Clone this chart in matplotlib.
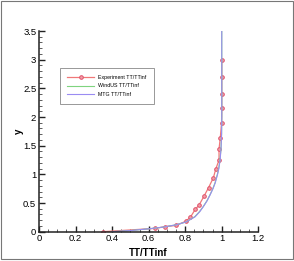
import matplotlib
matplotlib.use("Agg")
from matplotlib import pyplot as plt
from matplotlib.ticker import MultipleLocator
from matplotlib.patches import Rectangle

plt.rcParams['font.family'] = ['Liberation Sans', 'DejaVu Sans']

# experiment points
expX = [0.348, 0.637, 0.688, 0.751, 0.802, 0.828, 0.855, 0.875, 0.903, 0.928,
        0.954, 0.967, 0.985, 0.985, 0.992, 0.999, 1.0, 1.0, 1.0, 1.0]
expY = [0.0, 0.058, 0.087, 0.11, 0.18, 0.25, 0.39, 0.46, 0.62, 0.77,
        0.94, 1.09, 1.25, 1.44, 1.64, 1.90, 2.15, 2.40, 2.69, 2.99]

# WindUS profile
windX = [0.40, 0.50, 0.60, 0.68, 0.75, 0.805, 0.852, 0.878, 0.899, 0.919, 0.935,
         0.951, 0.963, 0.976, 0.983, 0.990, 0.996, 0.999, 1.0, 1.0]
windY = [0.0, 0.02, 0.05, 0.08, 0.12, 0.17, 0.26, 0.35, 0.44, 0.54, 0.64,
         0.75, 0.85, 1.0, 1.1, 1.25, 1.45, 1.7, 2.0, 3.5]

# MTG profile
mtgX = [0.40, 0.50, 0.60, 0.68, 0.75, 0.805, 0.854, 0.880, 0.900, 0.920, 0.936,
        0.952, 0.964, 0.977, 0.984, 0.991, 0.996, 0.999, 1.0, 1.0]
mtgY = [0.0, 0.02, 0.05, 0.08, 0.12, 0.17, 0.26, 0.35, 0.44, 0.54, 0.64,
        0.75, 0.85, 1.0, 1.1, 1.25, 1.45, 1.7, 2.0, 3.5]

xTicks = [0, 0.2, 0.4, 0.6, 0.8, 1.0, 1.2]
xTickLabels = ["0", "0.2", "0.4", "0.6", "0.8", "1", "1.2"]
yTicks = [0, 0.5, 1.0, 1.5, 2.0, 2.5, 3.0, 3.5]
yTickLabels = ["0", "0.5", "1", "1.5", "2", "2.5", "3", "3.5"]

fig = plt.figure(figsize=(2.94, 2.61), dpi=100)
ax = fig.add_axes([0.1327, 0.1123, 0.7459, 0.7689])

ax.plot(expX, expY, color="#f07878", linewidth=0.9, marker="o", markersize=2.6,
        markerfacecolor="#f0a0a8", markeredgecolor="#e0506a", markeredgewidth=0.7,
        label="Experiment TT/TTinf")
ax.plot(windX, windY, color="#7fd47f", linewidth=0.8, label="WindUS TT/TTinf")
ax.plot(mtgX, mtgY, color="#9a8cf2", linewidth=0.8, label="MTG TT/TTinf")

ax.set_xlim(0, 1.2)
ax.set_ylim(0, 3.5)
ax.xaxis.set_minor_locator(MultipleLocator(0.05))
ax.yaxis.set_minor_locator(MultipleLocator(0.1))
ax.set_xticks(xTicks)
ax.set_xticklabels(xTickLabels)
ax.set_yticks(yTicks)
ax.set_yticklabels(yTickLabels)

ax.spines['top'].set_visible(False)
ax.spines['right'].set_visible(False)
for s in ['left', 'bottom']:
    ax.spines[s].set_linewidth(1.1)
    ax.spines[s].set_color("#222222")
ax.tick_params(which='major', direction='in', length=4, width=1, labelsize=6.8, pad=2, color="#222222")
ax.tick_params(which='minor', direction='in', length=2, width=0.6, color="#444444")

ax.set_xlabel("TT/TTinf", fontsize=7, fontweight='bold', labelpad=3)
ax.set_ylabel("y", fontsize=7, fontweight='bold', labelpad=-1)

leg = ax.legend(loc='upper left', bbox_to_anchor=(0.096, 0.816), fontsize=3.8,
                frameon=True, fancybox=False, framealpha=1, edgecolor="#888888",
                handlelength=5, borderpad=1.4, labelspacing=0.6, handletextpad=0.8,
                borderaxespad=0)
leg.get_frame().set_linewidth(0.6)

fig.patches.append(Rectangle((0.004, 0.006), 0.992, 0.99, transform=fig.transFigure,
                             fill=False, edgecolor="#777777", linewidth=0.8))

fig.savefig("out.png", dpi=100)
